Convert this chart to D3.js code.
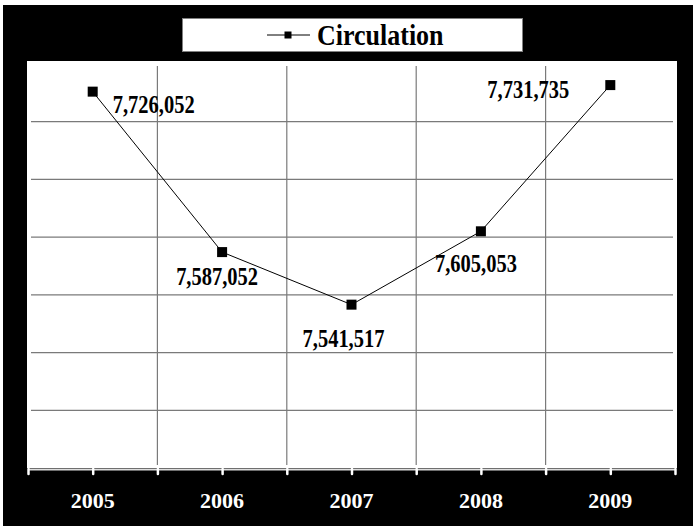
<!DOCTYPE html>
<html>
<head>
<meta charset="utf-8">
<script src="https://cdn.jsdelivr.net/npm/d3@7"></script>
<style>
  body { margin: 0; background: #fff; }
  text { font-family: "Liberation Serif", "Times New Roman", serif; font-weight: bold; }
</style>
</head>
<body>
<script>
var years = ["2005", "2006", "2007", "2008", "2009"];
var circulation = [7726052, 7587052, 7541517, 7605053, 7731735];
var yGrid = [7450000, 7500000, 7550000, 7600000, 7650000, 7700000];
// label offsets from each marker (dx, dy of baseline centre)
var labelDx = [61, -5, -8, -5, -82];
var labelDy = [21, 33, 42, 41, 13];

var width = 696,
    height = 529;

var svg = d3.select("body").append("svg")
    .attr("width", width)
    .attr("height", height);

// black frame and white plot area
svg.append("rect")
    .attr("x", 3).attr("y", 5)
    .attr("width", 690).attr("height", 521)
    .attr("fill", "#000");

svg.append("rect")
    .attr("x", 27).attr("y", 61)
    .attr("width", 650).attr("height", 407)
    .attr("fill", "#fff");

var x = d3.scaleBand()
    .domain(years)
    .range([28, 675]);

var y = d3.scaleLinear()
    .domain([7400000, 7750000])
    .range([468, 64]);

function cx(i) { return x(years[i]) + x.bandwidth() / 2; }

// gridlines
svg.append("g")
    .selectAll("line")
    .data(yGrid)
    .enter().append("line")
      .attr("x1", 31).attr("x2", 673)
      .attr("y1", function (d) { return y(d); })
      .attr("y2", function (d) { return y(d); })
      .attr("stroke", "#7a7a7a")
      .attr("stroke-width", 1.2);

svg.append("g")
    .selectAll("line")
    .data(years.slice(1))
    .enter().append("line")
      .attr("x1", function (d) { return x(d); })
      .attr("x2", function (d) { return x(d); })
      .attr("y1", 66).attr("y2", 465)
      .attr("stroke", "#7a7a7a")
      .attr("stroke-width", 1.2);

// x axis: ticks at category edges and centres
var xIdx = d3.scaleLinear().domain([0, years.length]).range(x.range());
var axis = svg.append("g")
    .attr("transform", "translate(0,469)")
    .call(d3.axisBottom(xIdx)
      .tickValues(d3.range(0, years.length + 0.01, 0.5))
      .tickSize(5)
      .tickSizeOuter(0)
      .tickFormat(""));
axis.select(".domain").attr("stroke", "#ddd").attr("stroke-width", 2);
axis.selectAll(".tick line")
    .attr("stroke", "#fff")
    .attr("stroke-width", 2.5)
    .attr("stroke-linecap", "round");

var labels = svg.append("g")
    .attr("transform", "translate(0,469)")
    .call(d3.axisBottom(x).tickSize(0));
labels.select(".domain").remove();
labels.selectAll("text")
    .attr("y", 39)
    .attr("dy", 0)
    .attr("fill", "#fff")
    .style("font-family", "'Liberation Serif', serif")
    .style("font-weight", "bold")
    .style("font-size", "22px");

// series line and markers
var line = d3.line()
    .x(function (d, i) { return cx(i); })
    .y(function (d) { return y(d); });

svg.append("path")
    .datum(circulation)
    .attr("d", line)
    .attr("fill", "none")
    .attr("stroke", "#000")
    .attr("stroke-width", 1);

svg.append("g")
    .selectAll("rect")
    .data(circulation)
    .enter().append("rect")
      .attr("x", function (d, i) { return cx(i) - 5; })
      .attr("y", function (d) { return y(d) - 5; })
      .attr("width", 10)
      .attr("height", 10)
      .attr("fill", "#000");

svg.append("g")
    .selectAll("g")
    .data(circulation)
    .enter().append("g")
      .attr("transform", function (d, i) {
        return "translate(" + (cx(i) + labelDx[i]) + "," + (y(d) + labelDy[i]) + ") scale(1,1.2)";
      })
    .append("text")
      .attr("text-anchor", "middle")
      .attr("font-size", 20.5)
      .attr("fill", "#000")
      .text(function (d) { return d3.format(",")(d); });

// legend
var legend = svg.append("g");
legend.append("rect")
    .attr("x", 182.5).attr("y", 18.5)
    .attr("width", 340).attr("height", 33)
    .attr("fill", "#fff")
    .attr("stroke", "#808080");
legend.append("line")
    .attr("x1", 267).attr("x2", 310)
    .attr("y1", 35).attr("y2", 35)
    .attr("stroke", "#000");
legend.append("rect")
    .attr("x", 284.5).attr("y", 31.5)
    .attr("width", 7).attr("height", 7)
    .attr("fill", "#000");
legend.append("text")
    .attr("transform", "translate(317,45) scale(1,1.17)")
    .attr("font-size", 26)
    .attr("fill", "#000")
    .text("Circulation");
</script>
</body>
</html>
